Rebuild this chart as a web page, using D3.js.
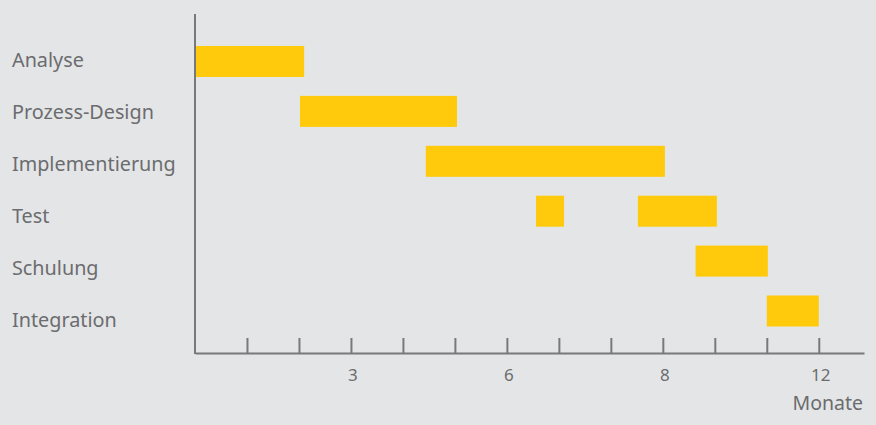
<!DOCTYPE html>
<html>
<head>
<meta charset="utf-8">
<script src="https://cdn.jsdelivr.net/npm/d3@7"></script>
<style>
  html, body { margin: 0; padding: 0; background: #e4e5e7; }
  svg { display: block; }
  text { font-family: "Noto Sans", "Open Sans", sans-serif; fill: #6b6c6e; }
</style>
</head>
<body>
<div id="chart"></div>
<script>
// task names, top to bottom
var tasks = ["Analyse", "Prozess-Design", "Implementierung", "Test", "Schulung", "Integration"];
// bar segments in months (task index, start, end)
var segTask = [0, 1, 2, 3, 3, 4, 5];
var segStart = [0, 2.02, 4.44, 6.56, 8.52, 9.63, 11.0];
var segEnd = [2.1, 5.04, 9.04, 7.1, 10.04, 11.02, 12.0];
// x axis
var monthTicks = [1, 2, 3, 4, 5, 6, 7, 8, 9, 10, 11, 12];
var labelTicks = [3, 6, 9, 12];
var labelText = ["3", "6", "8", "12"];
var axisTitle = "Monate";

let width = 876;
let height = 425;

let svg = d3.select('#chart')
  .append('svg')
  .attr('width', width)
  .attr('height', height)

svg.append('rect')
  .attr('width', width)
  .attr('height', height)
  .attr('fill', '#e4e5e7')

/** scales */
let x = d3.scaleLinear().domain([0, 12.87]).range([195, 864]);
let yBar = d3.scalePoint().domain(tasks).range([61.5, 311]);
let yLabel = d3.scalePoint().domain(tasks).range([60, 320]);
let barH = 31;
let axisY = 353;

let segments = segTask.map((t, i) => ({ task: tasks[t], start: segStart[i], end: segEnd[i] }));

// bars
svg.selectAll('.bar')
  .data(segments)
  .enter()
  .append('rect')
  .attr('class', 'bar')
  .attr('x', d => x(d.start))
  .attr('y', d => yBar(d.task) - barH / 2)
  .attr('width', d => x(d.end) - x(d.start))
  .attr('height', barH)
  .attr('fill', '#ffca0b')

// x axis with ticks pointing up
let xAxis = svg.append('g')
  .attr('transform', `translate(0,${axisY})`)
  .call(d3.axisBottom(x).tickValues(monthTicks).tickSizeInner(-15).tickSizeOuter(0).tickFormat(''))

xAxis.select('.domain').attr('stroke', '#78797b').attr('stroke-width', 2)
xAxis.selectAll('.tick line').attr('stroke', '#78797b').attr('stroke-width', 2)

// y axis line
svg.append('line')
  .attr('x1', x(0)).attr('x2', x(0))
  .attr('y1', 14).attr('y2', axisY + 1)
  .attr('stroke', '#78797b')
  .attr('stroke-width', 2)

// tick labels
svg.selectAll('.tlabel')
  .data(labelTicks)
  .enter()
  .append('text')
  .attr('class', 'tlabel')
  .attr('x', d => x(d) + 2)
  .attr('y', 381)
  .attr('text-anchor', 'middle')
  .style('font-size', '17px')
  .text((d, i) => labelText[i])

svg.append('text')
  .attr('x', 863)
  .attr('y', 410)
  .attr('text-anchor', 'end')
  .style('font-size', '19.5px')
  .text(axisTitle)

// task labels
svg.selectAll('.ylabel')
  .data(tasks)
  .enter()
  .append('text')
  .attr('class', 'ylabel')
  .attr('x', 12)
  .attr('y', d => yLabel(d))
  .attr('dy', '0.35em')
  .style('font-size', '19.8px')
  .text(d => d)
</script>
</body>
</html>
